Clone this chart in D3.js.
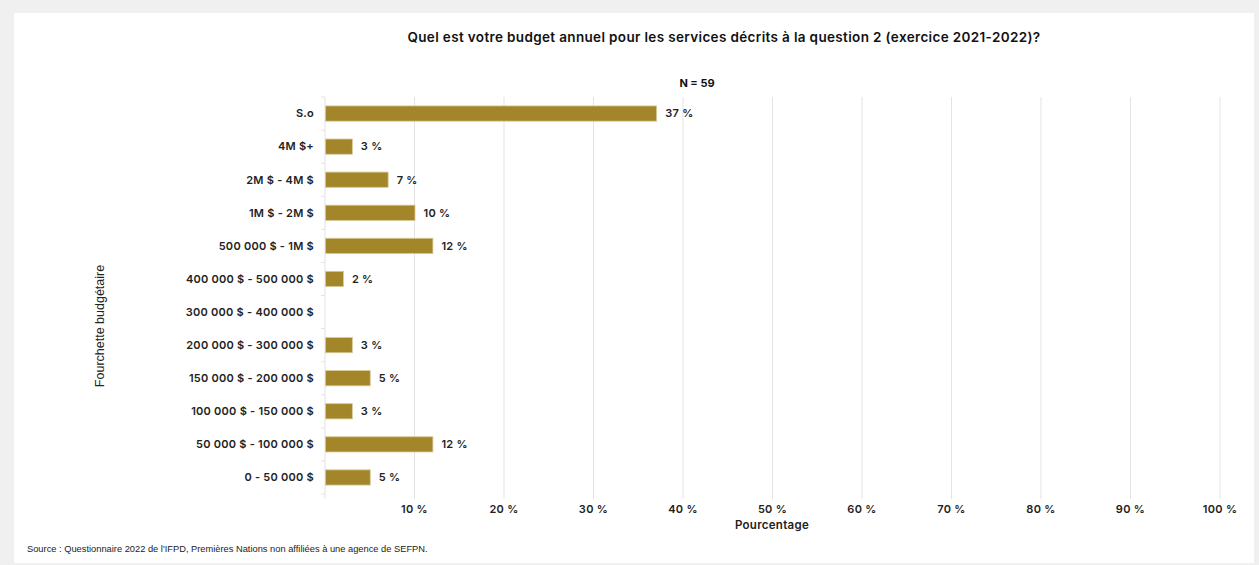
<!DOCTYPE html>
<html>
<head>
<meta charset="utf-8">
<script src="https://cdn.jsdelivr.net/npm/d3@7/dist/d3.min.js"></script>
<style>
  html, body { margin: 0; padding: 0; background: #f0f0f0; }
  svg { display: block; }
</style>
</head>
<body>
<svg id="chart" width="1259" height="565"></svg>
<script>
const categories = [
  "S.o", "4M $+", "2M $ - 4M $", "1M $ - 2M $", "500 000 $ - 1M $",
  "400 000 $ - 500 000 $", "300 000 $ - 400 000 $", "200 000 $ - 300 000 $",
  "150 000 $ - 200 000 $", "100 000 $ - 150 000 $", "50 000 $ - 100 000 $", "0 - 50 000 $"
];
const values = [37, 3, 7, 10, 12, 2, 0, 3, 5, 3, 12, 5];
const xTicks = [10, 20, 30, 40, 50, 60, 70, 80, 90, 100];

const titleText = "Quel est votre budget annuel pour les services décrits à la question 2 (exercice 2021-2022)?";
const subtitleText = "N = 59";
const xTitle = "Pourcentage";
const yTitle = "Fourchette budgétaire";
const sourceText = "Source : Questionnaire 2022 de l'IFPD, Premières Nations non affiliées à une agence de SEFPN.";

const FONT = "Inter, 'Open Sans', sans-serif";
const barColor = "#a3852a";

const svg = d3.select("#chart");

// card
svg.append("rect").attr("x", 14).attr("y", 13).attr("width", 1240).attr("height", 550).attr("fill", "#ffffff");

const plot = { left: 325, right: 1220, top: 97, bottom: 494 };

const x = d3.scaleLinear().domain([0, 100]).range([plot.left, plot.right]);
const y = d3.scaleBand().domain(categories).range([plot.top, plot.bottom]).paddingInner(0.54).paddingOuter(0.27);

// vertical gridlines
svg.append("g").selectAll("line").data(xTicks).join("line")
  .attr("x1", d => x(d)).attr("x2", d => x(d))
  .attr("y1", plot.top).attr("y2", plot.bottom + 5)
  .attr("stroke", "#e3e3e3").attr("stroke-width", 1);

// category axis line
svg.append("line")
  .attr("x1", x(0)).attr("x2", x(0)).attr("y1", plot.top).attr("y2", plot.bottom + 5)
  .attr("stroke", "#e3e3e3").attr("stroke-width", 1);

// category separators (small ticks)
const sepYs = d3.range(categories.length + 1).map(i => plot.top + i * (plot.bottom - plot.top) / categories.length);
svg.append("g").selectAll("line").data(sepYs).join("line")
  .attr("x1", x(0) - 4).attr("x2", x(0))
  .attr("y1", d => d).attr("y2", d => d)
  .attr("stroke", "#e3e3e3");

// x tick labels
svg.append("g").selectAll("text").data(xTicks).join("text")
  .attr("x", d => x(d)).attr("y", 513)
  .attr("text-anchor", "middle")
  .attr("font-family", FONT).attr("font-size", 11).attr("font-weight", 600)
  .attr("letter-spacing", 0.3).attr("fill", "#222")
  .text(d => d + " %");

// y category labels
svg.append("g").selectAll("text").data(categories).join("text")
  .attr("x", x(0) - 11).attr("y", d => y(d) + y.bandwidth() / 2)
  .attr("dy", "0.35em")
  .attr("text-anchor", "end")
  .attr("font-family", FONT).attr("font-size", 11).attr("font-weight", 600)
  .attr("letter-spacing", 0.25).attr("fill", "#222")
  .text(d => d);

// bars
const data = categories.map((c, i) => ({ c, v: values[i] }));
svg.append("g").selectAll("rect").data(data.filter(d => d.v > 0)).join("rect")
  .attr("x", x(0) + 0.5)
  .attr("y", d => y(d.c))
  .attr("width", d => x(d.v) - x(0))
  .attr("height", y.bandwidth())
  .attr("fill", barColor)
  .attr("stroke", "#d9c99a").attr("stroke-width", 0.8);

// value labels
svg.append("g").selectAll("text").data(data.filter(d => d.v > 0)).join("text")
  .attr("x", d => x(d.v) + 9)
  .attr("y", d => y(d.c) + y.bandwidth() / 2)
  .attr("dy", "0.35em")
  .attr("font-family", FONT).attr("font-size", 11).attr("font-weight", 600)
  .attr("letter-spacing", 0.3).attr("fill", "#222")
  .text(d => d.v + " %");

// titles
svg.append("text").attr("x", 724).attr("y", 42).attr("text-anchor", "middle")
  .attr("font-family", FONT).attr("font-size", 13.5).attr("font-weight", 600)
  .attr("letter-spacing", 0.35).attr("fill", "#111")
  .text(titleText);
svg.append("text").attr("x", 697).attr("y", 87).attr("text-anchor", "middle")
  .attr("font-family", FONT).attr("font-size", 11).attr("font-weight", 700).attr("fill", "#111")
  .text(subtitleText);
svg.append("text").attr("x", 772).attr("y", 529).attr("text-anchor", "middle")
  .attr("font-family", FONT).attr("font-size", 11.5).attr("font-weight", 600)
  .attr("letter-spacing", 0.3).attr("fill", "#222")
  .text(xTitle);
svg.append("text").attr("transform", "translate(104,326) rotate(-90)").attr("text-anchor", "middle")
  .attr("font-family", "'Liberation Sans', Arial, sans-serif").attr("font-size", 12.5).attr("fill", "#222")
  .text(yTitle);
svg.append("text").attr("x", 27).attr("y", 552)
  .attr("font-family", "'Liberation Sans', Arial, sans-serif").attr("font-size", 9.3).attr("fill", "#222")
  .text(sourceText);
</script>
</body>
</html>
